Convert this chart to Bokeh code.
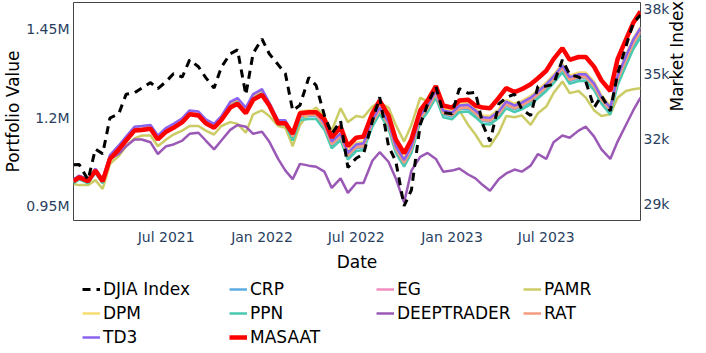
import math
import pandas as pd
from bokeh.plotting import figure
from bokeh.layouts import column
from bokeh.models import (Range1d, LinearAxis, FixedTicker, Legend, LegendItem,
                          DatetimeTickFormatter)
from bokeh.embed import file_html
from bokeh.resources import INLINE

# ---- data (semi-monthly readings) ----
dates = list(pd.date_range("2021-01-01", "2023-12-15", freq="SMS"))
dates[0] = pd.Timestamp("2021-01-04")
dates.append(pd.Timestamp("2023-12-29"))

djia = [30.8,30.81,30.1,31.52,31.3,32.95,33.15,34.04,34.11,34.33,
        34.58,34.30,34.63,34.99,34.84,35.63,35.31,34.81,34.33,35.29,
        35.91,36.09,34.02,35.93,36.59,35.91,35.41,34.99,33.29,33.54,
        34.82,34.45,33.06,32.22,32.81,30.67,31.10,31.29,32.80,33.91,
        31.66,30.96,28.9,29.63,32.65,33.59,34.40,33.20,33.14,34.30,
        34.09,34.13,32.66,31.87,33.60,33.89,34.05,33.35,33.06,34.41,
        34.42,34.51,35.63,34.95,34.84,34.62,33.43,33.98,33.27,34.99,
        36.25,37.31,37.69]

masaat = [1.021,1.032,1.021,1.051,1.021,1.084,1.111,1.136,1.164,1.166,
          1.169,1.139,1.161,1.172,1.188,1.210,1.207,1.185,1.172,1.194,
          1.229,1.240,1.213,1.251,1.265,1.235,1.185,1.185,1.155,1.213,
          1.216,1.216,1.196,1.144,1.175,1.120,1.144,1.147,1.213,1.249,
          1.207,1.139,1.100,1.139,1.221,1.249,1.290,1.235,1.229,1.249,
          1.251,1.235,1.229,1.227,1.257,1.284,1.273,1.281,1.295,1.312,
          1.333,1.366,1.397,1.364,1.372,1.372,1.344,1.306,1.276,1.366,
          1.421,1.468,1.501]

td3 = [1.026,1.037,1.026,1.056,1.026,1.095,1.122,1.147,1.175,1.177,
       1.180,1.150,1.172,1.183,1.199,1.221,1.218,1.196,1.183,1.205,
       1.245,1.256,1.229,1.267,1.281,1.243,1.193,1.193,1.155,1.213,
       1.216,1.216,1.185,1.133,1.156,1.101,1.125,1.128,1.194,1.230,
       1.188,1.120,1.081,1.120,1.207,1.235,1.276,1.221,1.215,1.235,
       1.237,1.221,1.202,1.200,1.219,1.246,1.235,1.243,1.257,1.274,
       1.295,1.317,1.348,1.315,1.323,1.323,1.297,1.259,1.229,1.319,
       1.374,1.421,1.454]

dpm = [1.018,1.029,1.018,1.048,1.018,1.087,1.114,1.139,1.167,1.169,
       1.172,1.142,1.164,1.175,1.191,1.213,1.210,1.188,1.175,1.197,
       1.237,1.248,1.221,1.259,1.273,1.235,1.185,1.185,1.160,1.218,
       1.221,1.221,1.190,1.138,1.161,1.106,1.130,1.133,1.199,1.235,
       1.193,1.125,1.086,1.125,1.212,1.240,1.281,1.226,1.220,1.240,
       1.242,1.226,1.207,1.205,1.224,1.251,1.240,1.248,1.262,1.279,
       1.300,1.322,1.353,1.320,1.328,1.328,1.302,1.264,1.234,1.322,
       1.377,1.424,1.457]

eg = [1.021,1.032,1.021,1.051,1.021,1.090,1.117,1.142,1.170,1.172,
      1.175,1.145,1.167,1.178,1.194,1.216,1.213,1.191,1.178,1.200,
      1.240,1.251,1.224,1.262,1.276,1.238,1.188,1.188,1.150,1.208,
      1.211,1.211,1.180,1.128,1.151,1.096,1.120,1.123,1.189,1.225,
      1.183,1.115,1.076,1.115,1.202,1.230,1.271,1.216,1.210,1.230,
      1.232,1.216,1.197,1.195,1.214,1.241,1.230,1.238,1.252,1.269,
      1.290,1.312,1.343,1.310,1.318,1.318,1.292,1.254,1.224,1.311,
      1.366,1.413,1.446]

rat = [1.023,1.034,1.023,1.053,1.023,1.092,1.119,1.144,1.172,1.174,
       1.177,1.147,1.169,1.180,1.196,1.218,1.215,1.193,1.180,1.202,
       1.242,1.253,1.226,1.264,1.278,1.240,1.190,1.190,1.147,1.205,
       1.208,1.208,1.177,1.125,1.148,1.093,1.117,1.120,1.186,1.222,
       1.180,1.112,1.073,1.112,1.199,1.227,1.268,1.213,1.207,1.227,
       1.229,1.213,1.194,1.192,1.211,1.238,1.227,1.235,1.249,1.266,
       1.287,1.309,1.340,1.307,1.315,1.315,1.289,1.251,1.221,1.308,
       1.363,1.410,1.443]

crp = [1.020,1.031,1.020,1.050,1.020,1.089,1.116,1.141,1.169,1.171,
       1.174,1.144,1.166,1.177,1.193,1.215,1.212,1.190,1.177,1.199,
       1.239,1.250,1.223,1.261,1.275,1.237,1.187,1.187,1.144,1.202,
       1.205,1.205,1.174,1.122,1.145,1.090,1.114,1.117,1.183,1.219,
       1.177,1.109,1.070,1.109,1.196,1.224,1.265,1.210,1.204,1.224,
       1.226,1.210,1.191,1.189,1.208,1.235,1.224,1.232,1.246,1.263,
       1.284,1.306,1.337,1.304,1.312,1.312,1.286,1.248,1.218,1.303,
       1.358,1.405,1.438]

ppn = [1.015,1.026,1.015,1.045,1.015,1.084,1.111,1.136,1.164,1.166,
       1.169,1.139,1.161,1.172,1.188,1.210,1.207,1.185,1.172,1.194,
       1.234,1.245,1.218,1.256,1.270,1.232,1.182,1.182,1.136,1.194,
       1.197,1.197,1.166,1.114,1.137,1.082,1.106,1.109,1.175,1.211,
       1.169,1.101,1.062,1.101,1.188,1.216,1.257,1.202,1.196,1.216,
       1.218,1.202,1.183,1.181,1.200,1.227,1.216,1.224,1.238,1.255,
       1.276,1.298,1.329,1.296,1.304,1.304,1.278,1.240,1.210,1.292,
       1.347,1.394,1.427]

deeptrader = [1.025,1.035,1.024,1.048,1.024,1.084,1.098,1.120,1.139,1.139,
              1.131,1.098,1.120,1.125,1.136,1.155,1.158,1.136,1.111,1.136,
              1.166,1.180,1.175,1.155,1.161,1.133,1.084,1.051,1.027,1.070,
              1.065,1.062,1.048,1.002,1.029,0.988,1.016,1.016,1.079,1.103,
              1.076,1.029,0.961,1.051,1.090,1.101,1.084,1.048,1.051,1.057,
              1.040,1.029,1.010,0.994,1.027,1.043,1.054,1.048,1.065,1.098,
              1.084,1.131,1.150,1.144,1.164,1.175,1.147,1.111,1.084,1.133,
              1.180,1.221,1.257]

pamr = [1.013,1.010,1.010,1.024,0.999,1.070,1.092,1.120,1.142,1.150,
        1.150,1.120,1.139,1.153,1.164,1.177,1.177,1.164,1.153,1.177,
        1.188,1.183,1.158,1.210,1.221,1.205,1.177,1.172,1.120,1.180,
        1.213,1.229,1.202,1.164,1.227,1.188,1.205,1.202,1.232,1.243,
        1.229,1.180,1.133,1.180,1.257,1.246,1.262,1.235,1.227,1.221,
        1.180,1.153,1.120,1.120,1.158,1.205,1.202,1.207,1.180,1.213,
        1.232,1.270,1.303,1.270,1.276,1.257,1.221,1.205,1.210,1.257,
        1.276,1.281,1.284]

x_tick_dates = ["2021-07-01", "2022-01-01", "2022-07-01", "2023-01-01", "2023-07-01"]
left_ticks = [0.95, 1.2, 1.45]
left_tick_labels = ["0.95M", "1.2M", "1.45M"]
right_ticks = [29, 32, 35, 38]
right_tick_labels = ["29k", "32k", "35k", "38k"]

FONT = "DejaVu Sans"
TICK_COLOR = "#2a3f5f"

series_styles = [
    ("CRP", crp, "#5dade2", 2.5),
    ("EG", eg, "#f08fbf", 2.5),
    ("PAMR", pamr, "#cccc66", 2.5),
    ("DPM", dpm, "#f7dc6f", 2.5),
    ("PPN", ppn, "#48c9b0", 2.5),
    ("DEEPTRADER", deeptrader, "#9b59b6", 2.5),
    ("RAT", rat, "#f39c7e", 2.5),
    ("TD3", td3, "#8a63ee", 2.5),
    ("MASAAT", masaat, "#ff0000", 4.5),
]
legend_order = ["DJIA Index", "CRP", "EG", "PAMR", "DPM", "PPN",
                "DEEPTRADER", "RAT", "TD3", "MASAAT"]
DJIA_DASH = "8 6"

p = figure(width=700, height=274, x_axis_type="datetime", output_backend="svg",
           toolbar_location=None,
           x_range=Range1d(dates[0], dates[-1]),
           y_range=Range1d(0.910, 1.526),
           min_border_left=0, min_border_right=0, min_border_top=2,
           min_border_bottom=0)
p.extra_y_ranges = {"mkt": Range1d(28.23, 38.27)}
right = LinearAxis(y_range_name="mkt", axis_label="Market Index")
p.add_layout(right, "right")

p.xaxis.axis_label = "Date"
p.yaxis[0].axis_label = "Portfolio Value"
p.grid.visible = False
p.outline_line_color = "#444444"
p.outline_line_width = 1
p.outline_line_alpha = 1.0
p.background_fill_color = "white"
p.border_fill_color = "white"

p.xaxis.ticker = FixedTicker(ticks=[pd.Timestamp(d).value / 1e6 for d in x_tick_dates])
p.xaxis.formatter = DatetimeTickFormatter(days="%b %Y", months="%b %Y", years="%b %Y")
p.yaxis[0].ticker = FixedTicker(ticks=left_ticks)
p.yaxis[0].major_label_overrides = dict(zip(left_ticks, left_tick_labels))
right.ticker = FixedTicker(ticks=right_ticks)
right.major_label_overrides = dict(zip(right_ticks, right_tick_labels))

for ax in [p.xaxis[0], p.yaxis[0], right]:
    ax.axis_line_color = None
    ax.major_tick_line_color = None
    ax.minor_tick_line_color = None
    ax.major_tick_out = 0
    ax.major_tick_in = 0
    ax.major_label_standoff = 5
    ax.major_label_text_font = FONT
    ax.major_label_text_font_size = "14px"
    ax.major_label_text_color = TICK_COLOR
    ax.axis_label_text_font = FONT
    ax.axis_label_text_font_size = "17px"
    ax.axis_label_text_font_style = "normal"
    ax.axis_label_text_color = "black"
    ax.axis_label_standoff = 2
p.xaxis[0].major_label_standoff = 8
p.xaxis[0].axis_label_standoff = 4
p.yaxis[0].axis_label_standoff = 0
p.yaxis[0].major_label_standoff = 4
right.major_label_standoff = 3
right.axis_label_orientation = math.pi / 2
right.axis_label_standoff = 5

for name, vals, col, w in series_styles:
    p.line(dates, vals, color=col, line_width=w)
p.line(dates, djia, y_range_name="mkt", color="black", line_width=3, line_dash=DJIA_DASH)

# ---- legend strip (separate figure below the plot) ----
lg = figure(width=700, height=76, output_backend="svg", toolbar_location=None,
            x_range=Range1d(0, 1), y_range=Range1d(0, 1),
            x_axis_location=None, y_axis_location=None,
            min_border_left=0, min_border_right=0, min_border_top=0,
            min_border_bottom=0)
lg.grid.visible = False
lg.outline_line_color = None
lg_r = {}
for name, vals, col, w in series_styles:
    lg_r[name] = lg.line([0, 1], [-5, -5], color=col, line_width=w)
lg_r["DJIA Index"] = lg.line([0, 1], [-5, -5], color="black", line_width=3,
                             line_dash=DJIA_DASH)

legend = Legend(items=[LegendItem(label=n, renderers=[lg_r[n]]) for n in legend_order],
                ncols=4, orientation="horizontal", location=(9, 1))
legend.label_text_font = FONT
legend.label_text_font_size = "17px"
legend.label_text_color = "black"
legend.glyph_width = 18
legend.glyph_height = 20
legend.label_standoff = 3
legend.label_width = 126
legend.label_height = 24
legend.spacing = 0
legend.padding = 0
legend.margin = 0
legend.border_line_color = None
legend.background_fill_alpha = 0
lg.add_layout(legend, "center")

layout = column(p, lg, spacing=0)
open("out.html", "w").write(file_html(layout, INLINE))
